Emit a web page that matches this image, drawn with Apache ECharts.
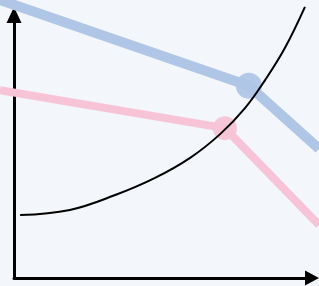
<!DOCTYPE html>
<html>
<head>
<meta charset="utf-8">
<script src="https://cdn.jsdelivr.net/npm/echarts@6/dist/echarts.min.js"></script>
<style>html,body{margin:0;padding:0;background:#f3f6fa;}#c{width:319px;height:286px;}</style>
</head>
<body>
<div id="c"></div>
<script>
var blueX = [0, 78, 100];
var blueY = [100, 70, 48];
var pinkX = [0, 70.5, 100];
var pinkY = [68.5, 55.2, 21.3];
var curveX = [6.3, 21.9, 36.1, 48.6, 59.6, 69.0, 76.8, 83.1, 89.3, 95.6];
var curveY = [24.8, 26.6, 31.8, 37.8, 44.8, 53.1, 62.2, 72.0, 83.2, 97.6];
var blueKnee = [78, 70];
var pinkKnee = [70.5, 55.2];

function pairs(xs, ys) { return xs.map(function (x, i) { return [x, ys[i]]; }); }

var chart = echarts.init(document.getElementById('c'), null, {renderer: 'canvas'});
chart.setOption({
  backgroundColor: '#f3f6fa',
  animation: false,
  grid: [
    {left: 0, right: 0, top: 0, bottom: 0},
    {left: 14, right: 7, top: 15, bottom: 8}
  ],
  xAxis: [
    {type: 'value', gridIndex: 0, min: 0, max: 100, show: false},
    {type: 'value', gridIndex: 1, min: 0, max: 100, axisLabel: {show: false}, axisTick: {show: false}, splitLine: {show: false},
     axisLine: {show: true, lineStyle: {color: '#000', width: 3}, symbol: ['none', 'triangle'], symbolSize: [15, 14]}}
  ],
  yAxis: [
    {type: 'value', gridIndex: 0, min: 0, max: 100, show: false},
    {type: 'value', gridIndex: 1, min: 0, max: 100, axisLabel: {show: false}, axisTick: {show: false}, splitLine: {show: false},
     axisLine: {show: true, lineStyle: {color: '#000', width: 3}, symbol: ['none', 'triangle'], symbolSize: [15, 16]}}
  ],
  series: [
    {type: 'line', xAxisIndex: 0, yAxisIndex: 0, data: pairs(blueX, blueY), showSymbol: false,
     lineStyle: {color: '#afc6e6', width: 10}},
    {type: 'line', xAxisIndex: 0, yAxisIndex: 0, data: pairs(pinkX, pinkY), showSymbol: false,
     lineStyle: {color: '#f6c4d6', width: 8}},
    {type: 'scatter', xAxisIndex: 0, yAxisIndex: 0, data: [blueKnee], symbolSize: 26,
     itemStyle: {color: '#a4bee2'}},
    {type: 'scatter', xAxisIndex: 0, yAxisIndex: 0, data: [pinkKnee], symbolSize: 24,
     itemStyle: {color: '#f6bcd1'}},
    {type: 'line', xAxisIndex: 0, yAxisIndex: 0, data: pairs(curveX, curveY), smooth: 0.4, showSymbol: false,
     lineStyle: {color: '#000', width: 2}}
  ]
});
</script>
</body>
</html>
